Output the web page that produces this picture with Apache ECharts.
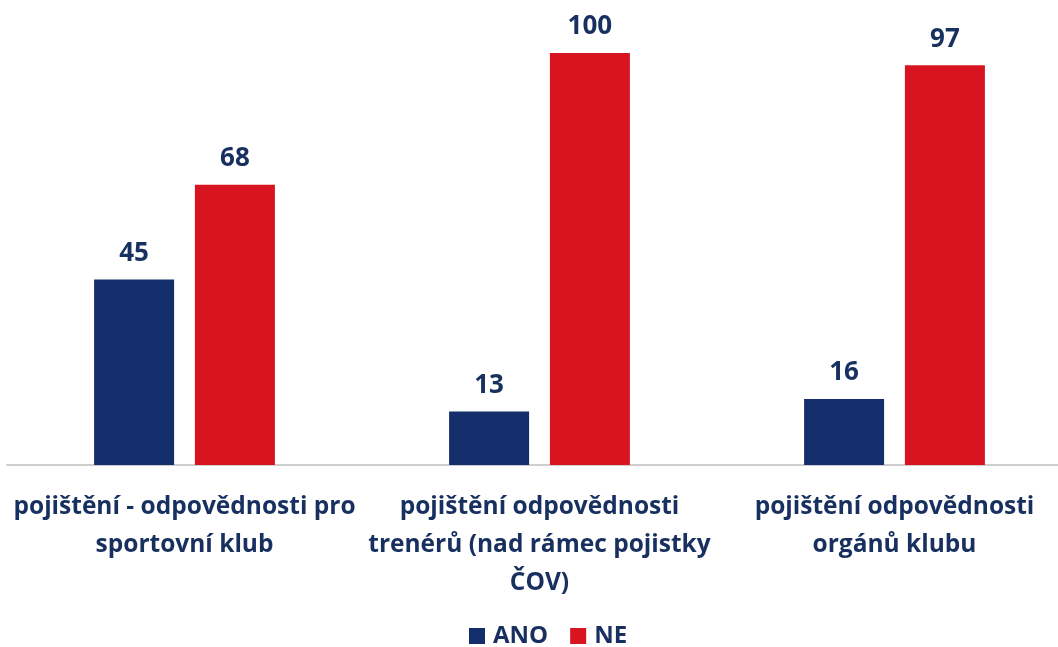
<!DOCTYPE html>
<html>
<head>
<meta charset="utf-8">
<style>
  html, body { margin: 0; padding: 0; background: #fff; }
  #chart { width: 1058px; height: 647px; }
</style>
<script src="https://cdn.jsdelivr.net/npm/echarts@6/dist/echarts.min.js"></script>
</head>
<body>
<div id="chart"></div>
<script>
// kategorie a hodnoty
var categories = [
    'pojištění - odpovědnosti pro\nsportovní klub',
    'pojištění odpovědnosti\ntrenérů (nad rámec pojistky\nČOV)',
    'pojištění odpovědnosti\norgánů klubu'
];
var seriesNames = ['ANO', 'NE'];
var anoValues = [45, 13, 16];
var neValues = [68, 100, 97];

var navy = '#142d6b';
var red = '#d7141f';
var textColor = '#17305f';
var font = 'Open Sans';

var myChart = echarts.init(document.getElementById('chart'));
var option = {
    animation: false,
    textStyle: { fontFamily: font },
    legend: {
        data: seriesNames,
        bottom: -6,
        left: 464,
        itemWidth: 16,
        itemHeight: 16,
        itemGap: 22,
        icon: 'rect',
        textStyle: { color: textColor, fontSize: 24, fontWeight: 'bold', fontFamily: font, padding: [0, 0, 0, 3] }
    },
    grid: {
        left: 7,
        top: 53,
        right: -14,
        height: 412,
        containLabel: false,
        outerBoundsMode: 'none'
    },
    xAxis: {
        type: 'category',
        data: categories,
        axisLine: { lineStyle: { color: '#bfbfbf', width: 1.5 } },
        axisTick: { show: false },
        axisLabel: {
            interval: 0,
            margin: 23,
            color: textColor,
            fontSize: 24.5,
            fontWeight: 'bold',
            lineHeight: 38,
            fontFamily: font
        }
    },
    yAxis: {
        type: 'value',
        min: 0,
        max: 100,
        show: false,
        splitLine: { show: false }
    },
    series: [
        {
            name: seriesNames[0],
            type: 'bar',
            data: anoValues,
            barWidth: 80,
            barGap: '26%',
            itemStyle: { color: navy },
            label: {
                show: true,
                position: 'top',
                distance: 13,
                color: textColor,
                fontSize: 26,
                fontWeight: 'bold',
                fontFamily: font
            }
        },
        {
            name: seriesNames[1],
            type: 'bar',
            data: neValues,
            barWidth: 80,
            itemStyle: { color: red },
            label: {
                show: true,
                position: 'top',
                distance: 13,
                color: textColor,
                fontSize: 26,
                fontWeight: 'bold',
                fontFamily: font
            }
        }
    ]
};
myChart.setOption(option);
</script>
</body>
</html>
